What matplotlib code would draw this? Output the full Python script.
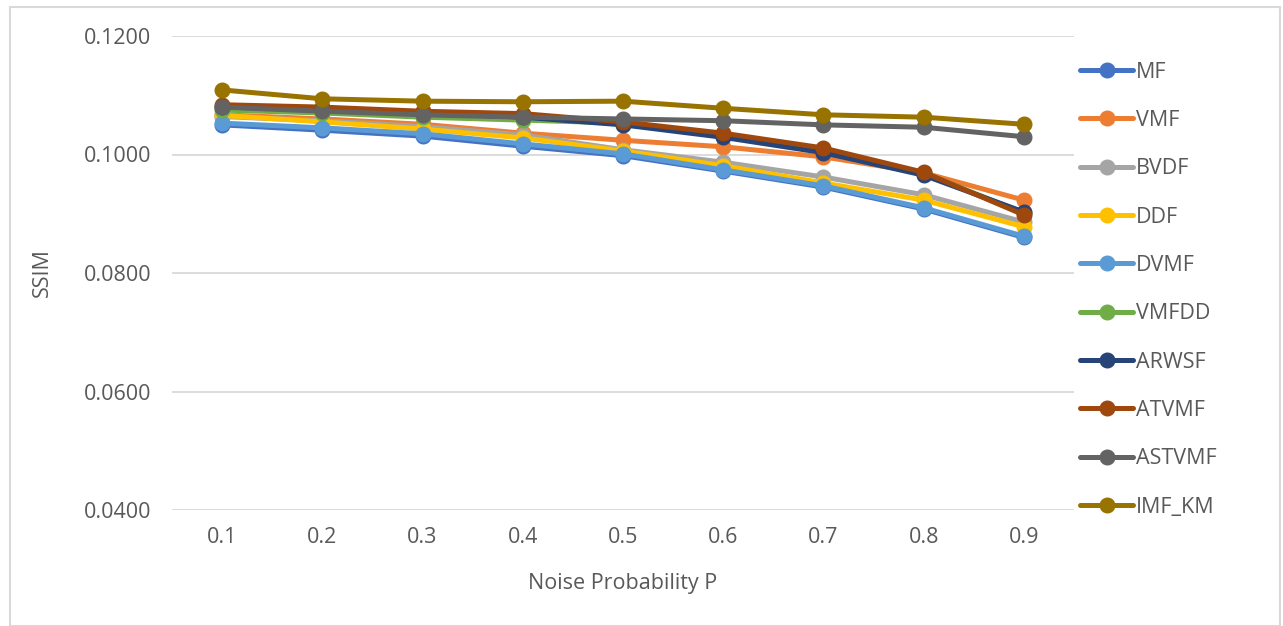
import matplotlib.pyplot as plt
from matplotlib.patches import Rectangle
from matplotlib.ticker import FormatStrFormatter

noise_p = ["0.1", "0.2", "0.3", "0.4", "0.5", "0.6", "0.7", "0.8", "0.9"]

mf = [0.1050, 0.1041, 0.1031, 0.1014, 0.0998, 0.0972, 0.0945, 0.0908, 0.0860]
vmf = [0.1067, 0.1060, 0.1051, 0.1036, 0.1024, 0.1013, 0.0996, 0.0969, 0.0923]
bvdf = [0.1064, 0.1057, 0.1047, 0.1033, 0.1008, 0.0987, 0.0962, 0.0932, 0.0886]
ddf = [0.1066, 0.1055, 0.1043, 0.1028, 0.1006, 0.0981, 0.0952, 0.0923, 0.0878]
dvmf = [0.1053, 0.1045, 0.1035, 0.1018, 0.1001, 0.0974, 0.0947, 0.0910, 0.0862]
vmfdd = [0.1075, 0.1070, 0.1063, 0.1058, 0.1053, 0.1033, 0.1008, 0.0969, 0.0901]
arwsf = [0.1080, 0.1076, 0.1070, 0.1063, 0.1050, 0.1029, 0.1003, 0.0965, 0.0903]
atvmf = [0.1084, 0.1080, 0.1073, 0.1069, 0.1055, 0.1036, 0.1011, 0.0970, 0.0898]
astvmf = [0.1080, 0.1073, 0.1067, 0.1063, 0.1060, 0.1057, 0.1050, 0.1046, 0.1030]
imf_km = [0.1109, 0.1094, 0.1090, 0.1089, 0.1090, 0.1078, 0.1067, 0.1063, 0.1051]

series = [
    ("MF", mf, "#4472C4"),
    ("VMF", vmf, "#ED7D31"),
    ("BVDF", bvdf, "#A5A5A5"),
    ("DDF", ddf, "#FFC000"),
    ("DVMF", dvmf, "#5B9BD5"),
    ("VMFDD", vmfdd, "#70AD47"),
    ("ARWSF", arwsf, "#264478"),
    ("ATVMF", atvmf, "#9E480E"),
    ("ASTVMF", astvmf, "#636363"),
    ("IMF_KM", imf_km, "#997300"),
]

plt.rcParams['font.family'] = ['Open Sans', 'DejaVu Sans']
text_col = "#595959"
fs = 15.5

fig = plt.figure(figsize=(12.83, 6.26), dpi=100)
ax = fig.add_axes([172 / 1283, 1 - 510 / 626, (1074 - 172) / 1283, (510 - 36) / 626])

x = list(range(len(noise_p)))
for name, vals, col in series:
    ax.plot(x, vals, color=col, lw=3.6, marker="o", ms=10.5, label=name,
            solid_capstyle="round")

ax.set_xlim(-0.5, len(noise_p) - 0.5)
ax.set_ylim(0.04, 0.12)
ax.set_yticks([0.04, 0.06, 0.08, 0.10, 0.12])
ax.yaxis.set_major_formatter(FormatStrFormatter("%.4f"))
ax.set_xticks(x)
ax.set_xticklabels(noise_p)
ax.grid(axis="y", color="#D9D9D9", lw=1.3)
ax.set_axisbelow(True)
for s in ax.spines.values():
    s.set_visible(False)
ax.tick_params(length=0, labelsize=fs, colors=text_col, pad=12)
ax.tick_params(axis="y", pad=15)
ax.set_xlabel("Noise Probability P", fontsize=fs, color=text_col, labelpad=18)
ax.set_ylabel("SSIM", fontsize=fs, color=text_col, labelpad=22)

leg = fig.legend(loc="upper left", bbox_to_anchor=(1071 / 1283, 1 - 53 / 626),
                 frameon=False, fontsize=fs, labelspacing=1.27,
                 handlelength=2.5, handletextpad=0.1, borderaxespad=0)
for t in leg.get_texts():
    t.set_color(text_col)

fig.patches.append(Rectangle((10 / 1283, 0), 1270 / 1283, 1 - 7 / 626,
                             transform=fig.transFigure, fill=False,
                             edgecolor="#D9D9D9", lw=1.5))

fig.savefig("out.png", dpi=100)
